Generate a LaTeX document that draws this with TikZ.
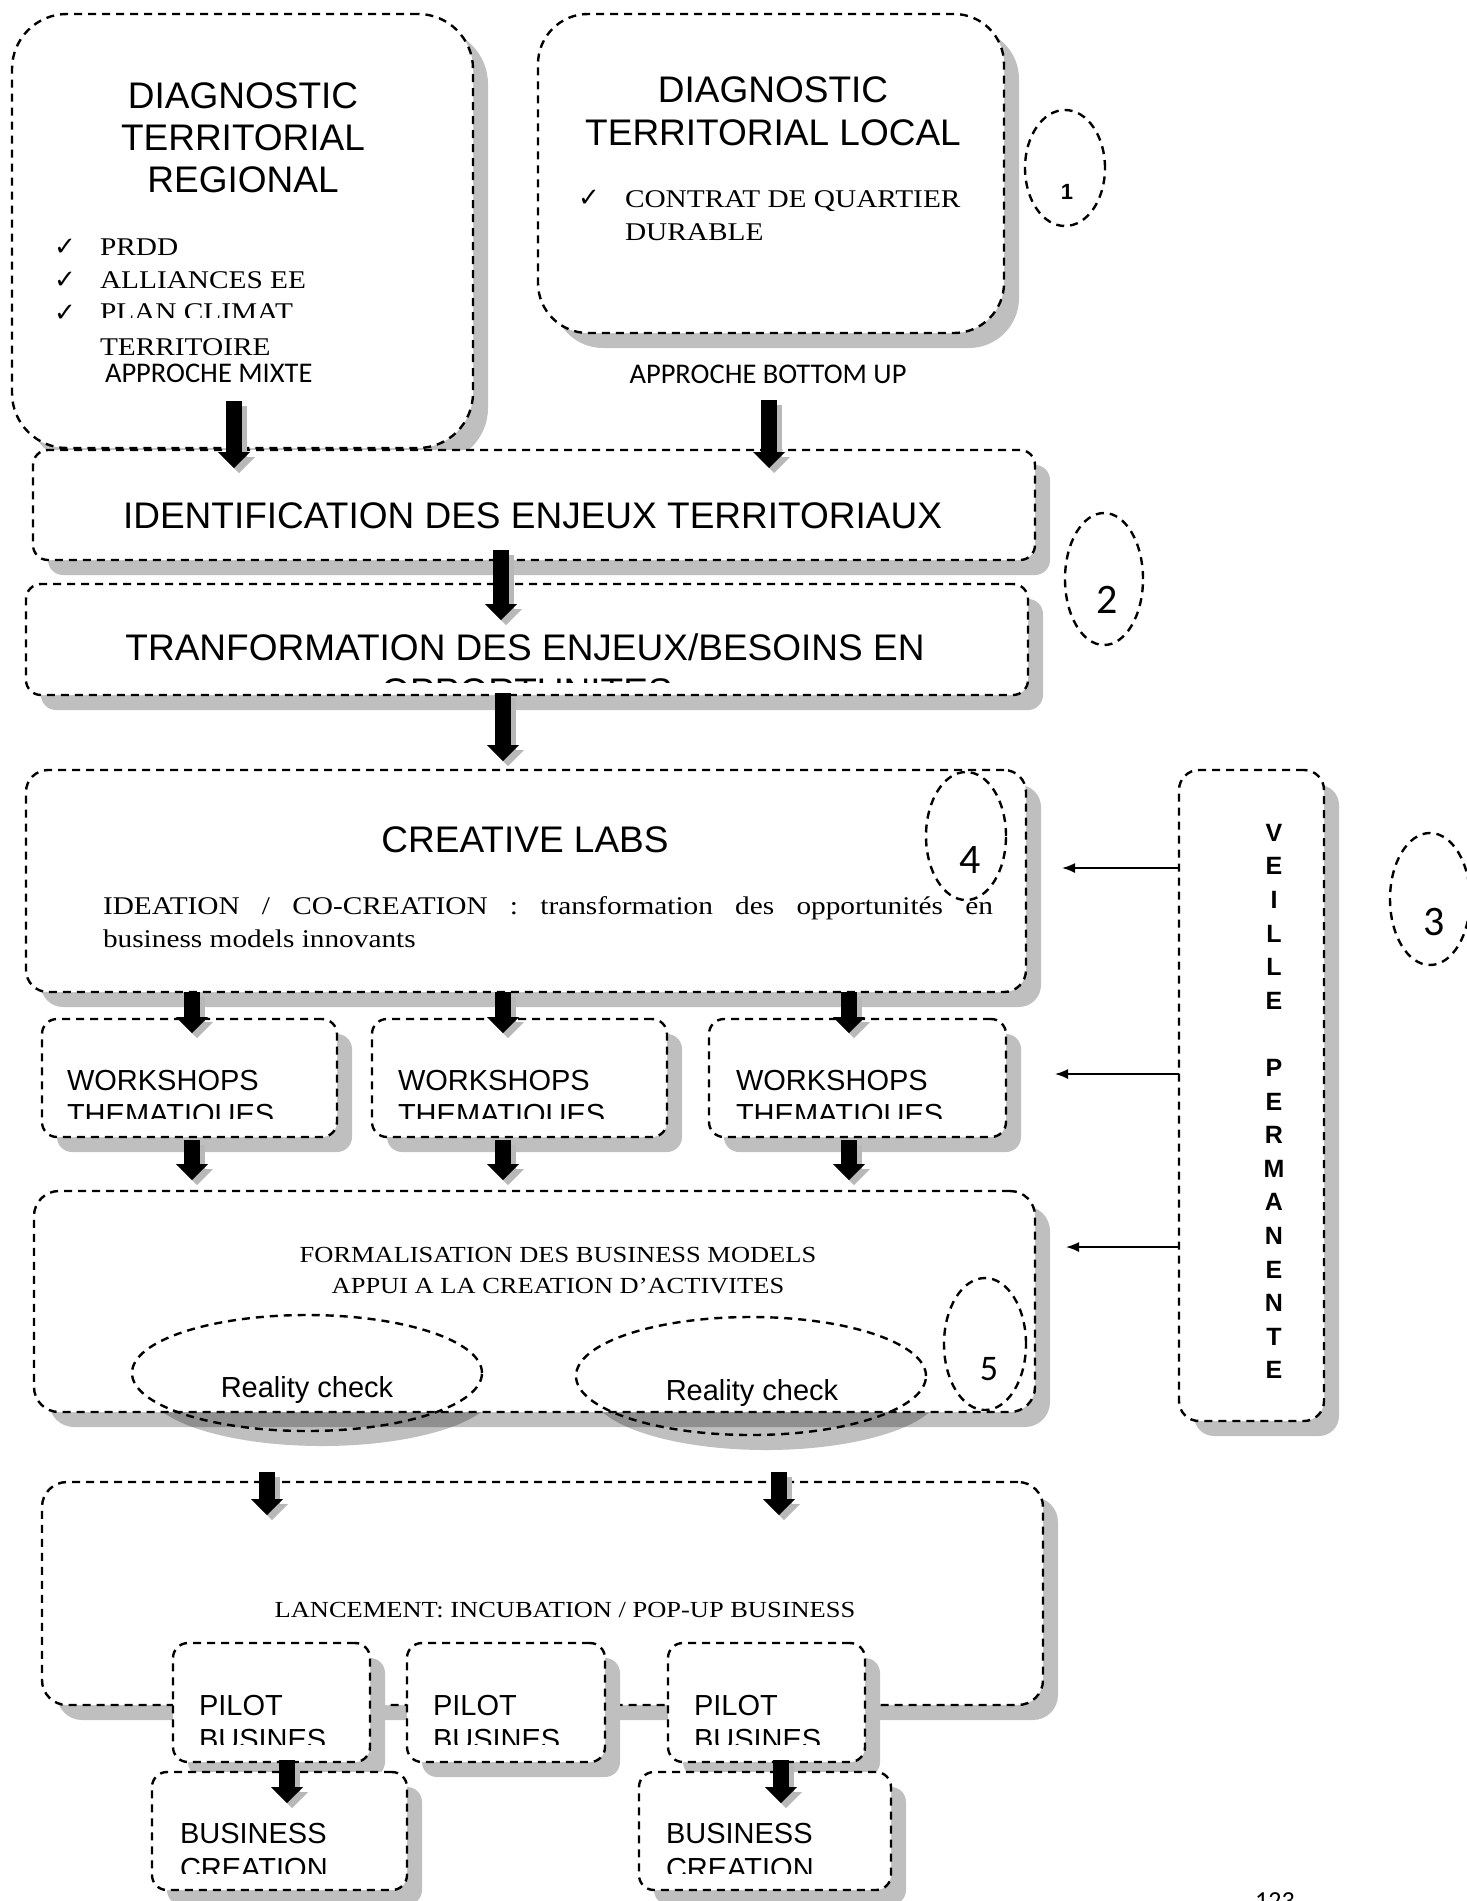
\documentclass[tikz,border=0pt]{standalone}
\usepackage{fontspec}
\setmainfont{Liberation Serif}
\newfontfamily\arialf{Liberation Sans}
\newfontfamily\serf[FakeStretch=1.15]{Liberation Serif}
\newfontfamily\calibf{Carlito}
\newfontfamily\dejaf{DejaVu Sans}
\usetikzlibrary{shapes.geometric,shadows,arrows.meta}
\newcommand\myfs[2]{\fontsize{#1}{#2}\selectfont}
\tikzset{
  bordash/.style={dash pattern=on 8pt off 6pt, line width=2.4pt},
  shad/.style={drop shadow={shadow xshift=15pt, shadow yshift=-15pt, fill=black!25, opacity=1}},
  tshad/.style={drop shadow={shadow xshift=15pt, shadow yshift=-15pt, fill=black, opacity=.25}},
  box/.style={draw, bordash, fill=white, rectangle, inner sep=0pt, outer sep=0pt, shad},
  tbox/.style={draw, bordash, fill=white, rectangle, inner sep=0pt, outer sep=0pt, tshad},
  oval/.style={draw, bordash, ellipse, inner sep=0pt, outer sep=0pt},
  ovalshadow/.style={ellipse, fill=black, opacity=.25, inner sep=0pt, outer sep=0pt},
  txt/.style={inner sep=0pt, outer sep=0pt},
  sanstxt/.style={txt, font=\arialf\myfs{37}{42}},
  smallsans/.style={txt, font=\arialf\myfs{29}{34}},
  sertxt/.style={txt, font=\serf\myfs{25.5}{30}},
  smallser/.style={txt, font=\serf\myfs{23}{28}},
  numtxt/.style={txt, font=\calibf\myfs{42}{46}},
  checktxt/.style={txt, font=\dejaf\myfs{26}{30}},
  calibtxt/.style={txt, font=\calibf\myfs{28.5}{32}},
  bigarrow/.style={line width=16pt, -{Triangle[length=16pt,width=32pt,line width=0pt]}},
  bigshadow/.style={bigarrow, draw=black!28},
  thinarrow/.style={line width=1.6pt, -{Latex[length=13pt,width=10pt]}},
}
\newcommand\blkarrow[2]{%
  \draw[bigshadow] ([shift={(5,5)}]#1) -- ([shift={(5,5)}]#2);
  \draw[bigarrow] (#1) -- (#2);}
\begin{document}
\begin{tikzpicture}[x=1pt,y=-1pt]
\useasboundingbox (0,0) rectangle (1467,1901);

% ---------- boxes ----------
\node[box, rounded corners=55pt, minimum width=461pt, minimum height=434pt] (reg) at (242.5,231) {};
\node[box, rounded corners=50pt, minimum width=466pt, minimum height=319pt] (loc) at (771,173.5) {};
\node[box, rounded corners=15pt, minimum width=1002pt, minimum height=110pt] (ident) at (534,505) {};
\node[box, rounded corners=15pt, minimum width=1002pt, minimum height=111pt] (transf) at (527,639.5) {};
\node[box, rounded corners=22pt, minimum width=1000pt, minimum height=222pt] (creative) at (526,881) {};
\node[box, rounded corners=20pt, minimum width=145pt, minimum height=651pt] (veille) at (1251.5,1095.5) {};
\node[box, rounded corners=15pt, minimum width=295pt, minimum height=118pt] (ws1) at (189.5,1078) {};
\node[box, rounded corners=15pt, minimum width=295pt, minimum height=118pt] (ws2) at (519.5,1078) {};
\node[box, rounded corners=15pt, minimum width=297pt, minimum height=118pt] (ws3) at (857.5,1078) {};
% shadows of the reality-check ovals, behind the box
\node[ovalshadow, minimum width=350pt, minimum height=116pt] (rc1s) at (322,1388) {};
\node[ovalshadow, minimum width=350pt, minimum height=118pt] (rc2s) at (766,1391) {};
\node[tbox, rounded corners=25pt, minimum width=1001pt, minimum height=221pt] (form) at (534.5,1301.5) {};
\node[oval, minimum width=350pt, minimum height=116pt] (rc1) at (307,1373) {};
\node[oval, minimum width=350pt, minimum height=118pt] (rc2) at (751,1376) {};
\node[box, rounded corners=25pt, minimum width=1001pt, minimum height=223pt] (lanc) at (542.5,1593.5) {};
\node[box, rounded corners=15pt, minimum width=197pt, minimum height=119pt] (p1) at (271.5,1702.5) {};
\node[box, rounded corners=15pt, minimum width=198pt, minimum height=119pt] (p2) at (506,1702.5) {};
\node[box, rounded corners=15pt, minimum width=197pt, minimum height=119pt] (p3) at (766.5,1702.5) {};
\node[box, rounded corners=15pt, minimum width=255pt, minimum height=118pt] (b1) at (279.5,1831) {};
\node[box, rounded corners=15pt, minimum width=252pt, minimum height=118pt] (b2) at (765,1831) {};

% ---------- numbered ovals ----------
\node[oval, minimum width=80pt, minimum height=116pt] (e1) at (1065,168) {};
\node[txt, anchor=base, font=\arialf\bfseries\myfs{22}{26}] (n1) at (1067,199) {1};
\node[oval, minimum width=78pt, minimum height=132pt] (e2) at (1104,579) {};
\node[numtxt, anchor=base] (n2) at (1107,613) {2};
\node[oval, minimum width=80pt, minimum height=132pt] (e3) at (1430,899) {};
\node[numtxt, anchor=base] (n3) at (1434,935) {3};
\node[oval, minimum width=80pt, minimum height=128pt] (e4) at (966,836) {};
\node[numtxt, anchor=base] (n4) at (970,873) {4};
\node[oval, minimum width=82pt, minimum height=132pt] (e5) at (985,1344) {};
\node[txt, anchor=base, font=\calibf\myfs{36}{40}] (n5) at (989,1380) {5};

% ---------- texts: regional ----------
\node[sanstxt, anchor=base] (r1) at (243,108) {DIAGNOSTIC};
\node[sanstxt, anchor=base] (r2) at (243,150) {TERRITORIAL};
\node[sanstxt, anchor=base] (r3) at (243,192) {REGIONAL};
\node[checktxt, anchor=base west] (c1) at (54,255) {✓};
\node[checktxt, anchor=base west] (c2) at (54,288) {✓};
\node[checktxt, anchor=base west] (c3) at (54,321) {✓};
\node[sertxt, anchor=base west] (l1) at (100,255) {PRDD};
\node[sertxt, anchor=base west] (l2) at (100,288) {ALLIANCES EE};
\begin{scope}
\clip (0,290) rectangle (1467,317.5);
\node[sertxt, anchor=base west] (l3) at (100,320) {PLAN CLIMAT};
\end{scope}
\node[sertxt, anchor=base west] (l4) at (100,355) {TERRITOIRE};
\node[calibtxt, anchor=base west] (mixte) at (105,382) {APPROCHE MIXTE};

% ---------- texts: local ----------
\node[sanstxt, anchor=base] (lo1) at (773,102) {DIAGNOSTIC};
\node[sanstxt, anchor=base] (lo2) at (773,145) {TERRITORIAL LOCAL};
\node[checktxt, anchor=base west] (c4) at (578,206) {✓};
\node[sertxt, anchor=base west] (lo3) at (625,207) {CONTRAT DE QUARTIER};
\node[sertxt, anchor=base west] (lo4) at (625,240) {DURABLE};
\node[calibtxt, anchor=base] (bottomup) at (768,383) {APPROCHE BOTTOM UP};

% ---------- texts: middle ----------
\node[sanstxt, anchor=base] (idt) at (532.5,528) {IDENTIFICATION DES ENJEUX TERRITORIAUX};
\node[sanstxt, anchor=base] (tr1) at (525,660) {TRANFORMATION DES ENJEUX/BESOINS EN};
\begin{scope}
\clip (0,600) rectangle (1467,682);
\node[sanstxt, anchor=base] (tr2) at (527,704) {OPPORTUNITES};
\end{scope}
\node[sanstxt, anchor=base] (cl) at (525,852) {CREATIVE LABS};
\node[txt, anchor=base west, font=\serf\myfs{25.5}{33}] (idea) at (103,914)
  {\parbox[t]{890pt}{IDEATION / CO-CREATION : transformation des opportunités en\linebreak business models innovants}};

% veille
\node[txt, anchor=north, align=center, font=\arialf\bfseries\myfs{25}{33.6}] (vtxt) at (1274,824)
  {V\\E\\I\\L\\L\\E\\[33.6pt]P\\E\\R\\M\\A\\N\\E\\N\\T\\E};

% workshops
\node[smallsans, anchor=base west] (w1a) at (67,1090) {WORKSHOPS};
\node[smallsans, anchor=base west] (w2a) at (398,1090) {WORKSHOPS};
\node[smallsans, anchor=base west] (w3a) at (736,1090) {WORKSHOPS};
\begin{scope}
\clip (0,1095) rectangle (1467,1118);
\node[smallsans, anchor=base west] (w1b) at (67,1124) {THEMATIQUES};
\node[smallsans, anchor=base west] (w2b) at (398,1124) {THEMATIQUES};
\node[smallsans, anchor=base west] (w3b) at (736,1124) {THEMATIQUES};
\end{scope}

% formalisation
\node[smallser, anchor=base] (f1) at (558,1262) {FORMALISATION DES BUSINESS MODELS};
\node[smallser, anchor=base] (f2) at (558,1293) {APPUI A LA CREATION D’ACTIVITES};
\node[smallsans, anchor=base] (rct1) at (307,1397) {Reality check};
\node[smallsans, anchor=base] (rct2) at (752,1400) {Reality check};

% lancement
\node[smallser, anchor=base] (lt) at (565,1617) {LANCEMENT: INCUBATION / POP-UP BUSINESS};
\node[smallsans, anchor=base west] (pa1) at (199,1715) {PILOT};
\node[smallsans, anchor=base west] (pa2) at (433,1715) {PILOT};
\node[smallsans, anchor=base west] (pa3) at (694,1715) {PILOT};
\begin{scope}
\clip (0,1720) rectangle (1467,1744);
\node[smallsans, anchor=base west] (pb1) at (199,1749) {BUSINES};
\node[smallsans, anchor=base west] (pb2) at (433,1749) {BUSINES};
\node[smallsans, anchor=base west] (pb3) at (694,1749) {BUSINES};
\end{scope}
\node[smallsans, anchor=base west] (ba1) at (180,1843) {BUSINESS};
\node[smallsans, anchor=base west] (ba2) at (666,1843) {BUSINESS};
\begin{scope}
\clip (0,1848) rectangle (1467,1873);
\node[smallsans, anchor=base west] (bb1) at (180,1878) {CREATION};
\node[smallsans, anchor=base west] (bb2) at (666,1878) {CREATION};
\end{scope}
\node[txt, anchor=base, font=\calibf\myfs{26}{30}] (pagenum) at (1275,1909) {123};

% ---------- big arrows ----------
\coordinate (a1s) at (234,401);  \coordinate (a1e) at (234,468);
\coordinate (a2s) at (769,400);  \coordinate (a2e) at (769,468);
\coordinate (a3s) at (501,550);  \coordinate (a3e) at (501,620);
\coordinate (a4s) at (503,693);  \coordinate (a4e) at (503,761);
\coordinate (a5s) at (192,992);  \coordinate (a5e) at (192,1033);
\coordinate (a6s) at (503,992);  \coordinate (a6e) at (503,1033);
\coordinate (a7s) at (849,992);  \coordinate (a7e) at (849,1033);
\coordinate (a8s) at (192,1140); \coordinate (a8e) at (192,1180);
\coordinate (a9s) at (503,1140); \coordinate (a9e) at (503,1180);
\coordinate (a10s) at (849,1140); \coordinate (a10e) at (849,1180);
\coordinate (a11s) at (267,1472); \coordinate (a11e) at (267,1515);
\coordinate (a12s) at (779,1472); \coordinate (a12e) at (779,1515);
\coordinate (a13s) at (287,1760); \coordinate (a13e) at (287,1803);
\coordinate (a14s) at (781,1760); \coordinate (a14e) at (781,1803);
\blkarrow{a1s}{a1e}
\blkarrow{a2s}{a2e}
\blkarrow{a3s}{a3e}
\blkarrow{a4s}{a4e}
\blkarrow{a5s}{a5e}
\blkarrow{a6s}{a6e}
\blkarrow{a7s}{a7e}
\blkarrow{a8s}{a8e}
\blkarrow{a9s}{a9e}
\blkarrow{a10s}{a10e}
\blkarrow{a11s}{a11e}
\blkarrow{a12s}{a12e}
\blkarrow{a13s}{a13e}
\blkarrow{a14s}{a14e}

% ---------- thin arrows from veille ----------
\coordinate (t1) at (1062,868);
\coordinate (t2) at (1055,1074);
\coordinate (t3) at (1066,1247);
\draw[thinarrow] (veille.west |- t1) -- (t1);
\draw[thinarrow] (veille.west |- t2) -- (t2);
\draw[thinarrow] (veille.west |- t3) -- (t3);
\end{tikzpicture}
\end{document}
